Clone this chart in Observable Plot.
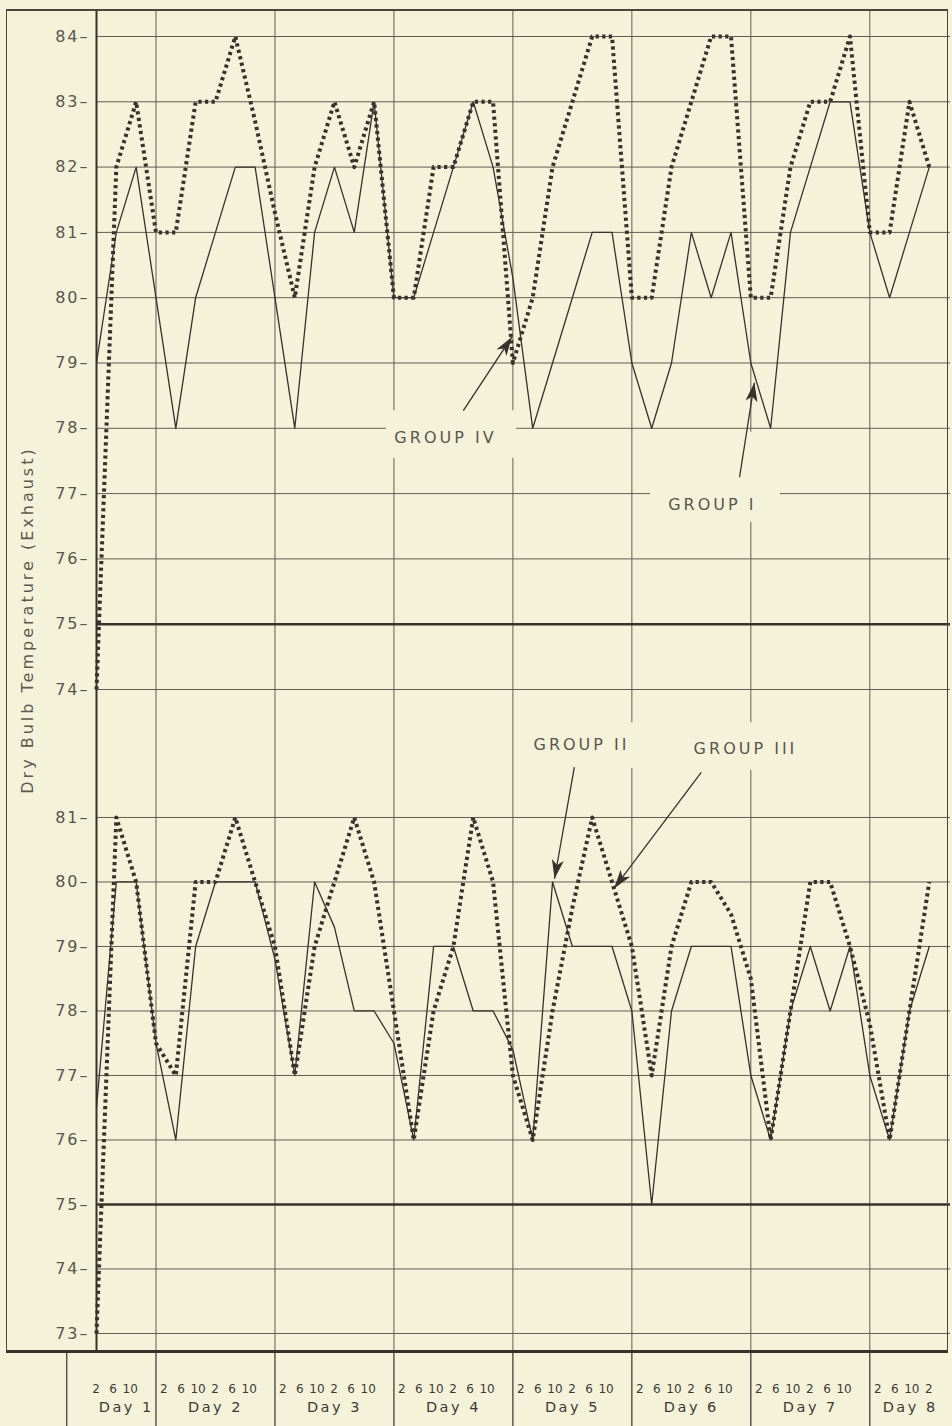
<!DOCTYPE html>
<html>
<head>
<meta charset="utf-8">
<script src="https://cdn.jsdelivr.net/npm/d3@7"></script>
<script src="https://cdn.jsdelivr.net/npm/@observablehq/plot@0.6"></script>
<style>
  html, body { margin: 0; padding: 0; background: #f5f2da; }
  #page { position: relative; width: 952px; height: 1426px; overflow: hidden; background: #f5f2da; font-family: "DejaVu Sans", sans-serif; }
  #frame { position: absolute; left: 6px; top: 9px; width: 942px; height: 1344px; box-sizing: border-box;
           border: 1.5px solid #4a463e; border-top-width: 2px; border-bottom: 3px solid #36322c; pointer-events: none; }
  #ytitle { position: absolute; left: 27px; top: 620px; transform: translate(-50%, -50%) rotate(-90deg);
            white-space: nowrap; font-size: 16px; letter-spacing: 3px; color: #5e5a51; }
  #top, #bottom { position: absolute; left: 0; }
  #top { top: 10px; }
  #bottom { top: 705px; }
</style>
</head>
<body>
<div id="page">
  <div id="top"></div>
  <div id="bottom"></div>
  <div id="frame"></div>
  <div id="ytitle">Dry Bulb Temperature (Exhaust)</div>
</div>
<script>
// ---------------- DATA ----------------
const days = ["Day 1", "Day 2", "Day 3", "Day 4", "Day 5", "Day 6", "Day 7", "Day 8"];
const hourLabels = ["2", "6", "10", "2", "6", "10"];   // readings every 4 h: 2am 6am 10am 2pm 6pm 10pm
const firstReading = 3;                                   // Day 1 starts with the 2 pm reading (slot 3)

// Upper panel
const groupI   = [79, 81, 82, 80, 78, 80, 81, 82, 82, 80,
                  78, 81, 82, 81, 83, 80, 80, 81, 82, 83,
                  82, 80.3, 78, 79, 80, 81, 81, 79, 78, 79,
                  81, 80, 81, 79, 78, 81, 82, 83, 83, 81,
                  80, 81, 82];
const groupIV  = [74, 82, 83, 81, 81, 83, 83, 84, 82.7, 81.3,
                  80, 82, 83, 82, 83, 80, 80, 82, 82, 83,
                  83, 79, 80, 82, 83, 84, 84, 80, 80, 82,
                  83, 84, 84, 80, 80, 82, 83, 83, 84, 81,
                  81, 83, 82];
// Lower panel
const groupII  = [76.5, 80, 80, 77.5, 76, 79, 80, 80, 80, 78.8,
                  77, 80, 79.3, 78, 78, 77.5, 76, 79, 79, 78,
                  78, 77.4, 76, 80, 79, 79, 79, 78, 75, 78,
                  79, 79, 79, 77, 76, 78, 79, 78, 79, 77,
                  76, 78, 79];
const groupIII = [73, 81, 80, 77.5, 77, 80, 80, 81, 80, 79,
                  77, 79, 80, 81, 80, 78, 76, 78, 79, 81,
                  80, 77, 76, 78, 79.6, 81, 80, 79, 77, 79,
                  80, 80, 79.5, 78.5, 76, 78, 80, 80, 79, 77.8,
                  76, 78, 80];

const topTicks = [74, 75, 76, 77, 78, 79, 80, 81, 82, 83, 84];
const bottomTicks = [73, 74, 75, 76, 77, 78, 79, 80, 81];
const heavyLine = [75];

// annotations (x in reading slots, y in °F)
const topLabels = [{name: "GROUP IV", t: 20.6, v: 77.86}, {name: "GROUP I", t: 34.06, v: 76.82}];
const bottomLabels = [{name: "GROUP II", t: 27.46, v: 82.13}, {name: "GROUP III", t: 35.73, v: 82.07}];
const topArrows = [{t1: 21.5, v1: 78.27, t2: 23.95, v2: 79.4}, {t1: 35.43, v1: 77.25, t2: 36.18, v2: 78.7}];
const bottomArrows = [{t1: 27.1, v1: 81.78, t2: 26.1, v2: 80.05}, {t1: 33.5, v1: 81.7, t2: 29.1, v2: 79.9}];
const topKnock = [{t1: 17.62, t2: 24.18, v1: 77.54, v2: 78.27}, {t1: 30.94, t2: 37.49, v1: 76.56, v2: 77.94}];
const bottomKnock = [{t1: 24.38, t2: 30.53, v1: 81.76, v2: 82.47}, {t1: 32.45, t2: 39.1, v1: 81.73, v2: 82.47}];

// ---------------- LAYOUT ----------------
const paper = "#f5f2da", ink = "#36322c", grid = "#615d54", textGray = "#5a564d";
const W = 952, marginLeft = 96, marginRight = 2;
const xDomain = [3, 46.07];
const topDomain = [73.755, 84.398], topH = 695;
const botDomain = [72.705, 82.736], botH = 721, botMB = 74;
const labelInset = 0.4, labelSpacing = 0.86;

const slots = groupI.map((_, i) => firstReading + i);
const rows = (arr) => arr.map((v, i) => ({t: slots[i], v}));
const dayStarts = days.slice(1).map((_, i) => 6 * (i + 1));
const labelDividers = [1.5, ...dayStarts];
const hourTickPos = slots.map(t => 6 * Math.floor(t / 6) + labelInset + (t % 6) * labelSpacing);
const hourTickText = new Map(slots.map((t, i) => [hourTickPos[i], hourLabels[t % 6]]));
const dayMid = days.map((name, i) => {
  const a = Math.max(6 * i, xDomain[0]), b = Math.min(6 * (i + 1), xDomain[1]);
  return {name, t: (a + b) / 2};
});

const xs = d3.scaleLinear(xDomain, [marginLeft, W - marginRight]);
const yTop = d3.scaleLinear(topDomain, [topH, 0]);
const yBot = d3.scaleLinear(botDomain, [botH - botMB, 0]);
const withAngle = (arr, y) => arr.map(a => ({...a,
  angle: Math.atan2(xs(a.t2) - xs(a.t1), -(y(a.v2) - y(a.v1))) * 180 / Math.PI}));

const arrowHead = {draw(ctx) { ctx.moveTo(0, 0); ctx.lineTo(6, 19); ctx.lineTo(0, 14); ctx.lineTo(-6, 19); ctx.closePath(); }};

const solid = {x: "t", y: "v", stroke: ink, strokeWidth: 1.3};
const dotted = {x: "t", y: "v", stroke: ink, strokeWidth: 4, strokeDasharray: "3.2,3.4", strokeLinecap: "butt"};

function annotationMarks(labels, arrows, knock, y) {
  return {
    knock: Plot.rect(knock, {x1: "t1", x2: "t2", y1: "v1", y2: "v2", fill: paper}),
    texts: Plot.text(labels, {x: "t", y: "v", text: "name", fontSize: 16, fill: textGray}),
    shafts: Plot.link(arrows, {x1: "t1", y1: "v1", x2: "t2", y2: "v2", stroke: ink, strokeWidth: 1.3}),
    heads: Plot.dot(withAngle(arrows, y), {x: "t2", y: "v2", symbol: arrowHead, r: 5, rotate: "angle", fill: ink, stroke: "none"})
  };
}

function spaceText(svg) {
  svg.querySelectorAll("text").forEach(el => {
    const s = el.textContent;
    let ls = null;
    if (/^GROUP/.test(s)) ls = "3px";
    else if (/^Day/.test(s)) ls = "2.5px";
    else if (/–$/.test(s)) ls = "2px";
    if (ls) { el.setAttribute("letter-spacing", ls); el.style.letterSpacing = ls; }
  });
}

const ta = annotationMarks(topLabels, topArrows, topKnock, yTop);
const topPlot = Plot.plot({
  width: W, height: topH, marginLeft, marginRight, marginTop: 0, marginBottom: 0,
  style: {background: "transparent", overflow: "visible", fontFamily: "DejaVu Sans"},
  x: {domain: xDomain, axis: null},
  y: {domain: topDomain},
  marks: [
    Plot.ruleY(topTicks, {stroke: grid, strokeWidth: 1}),
    Plot.ruleX(dayStarts, {stroke: grid, strokeWidth: 1}),
    Plot.ruleY(heavyLine, {stroke: ink, strokeWidth: 2.4}),
    ta.knock,
    Plot.ruleX([xDomain[0]], {stroke: ink, strokeWidth: 2}),
    Plot.axisY(topTicks, {tickSize: 0, tickPadding: 7, tickFormat: d => `${d}–`, fontSize: 16, color: textGray, label: null}),
    Plot.line(rows(groupIV), dotted),
    Plot.line(rows(groupI), solid),
    ta.texts, ta.shafts, ta.heads
  ]
});
spaceText(topPlot);
document.getElementById("top").append(topPlot);

const ba = annotationMarks(bottomLabels, bottomArrows, bottomKnock, yBot);
const bottomPlot = Plot.plot({
  width: W, height: botH, marginLeft, marginRight, marginTop: 0, marginBottom: botMB,
  style: {background: "transparent", overflow: "visible", fontFamily: "DejaVu Sans"},
  x: {domain: xDomain, label: null},
  y: {domain: botDomain},
  marks: [
    Plot.ruleY(bottomTicks, {stroke: grid, strokeWidth: 1}),
    Plot.ruleX(dayStarts, {stroke: grid, strokeWidth: 1}),
    Plot.ruleX(labelDividers, {y1: botDomain[0], y2: botDomain[0] - botMB / 64.5, stroke: ink, strokeWidth: 1.2}),
    Plot.ruleY(heavyLine, {stroke: ink, strokeWidth: 2.4}),
    ba.knock,
    Plot.ruleX([xDomain[0]], {stroke: ink, strokeWidth: 2}),
    Plot.axisY(bottomTicks, {tickSize: 0, tickPadding: 7, tickFormat: d => `${d}–`, fontSize: 16, color: textGray, label: null}),
    Plot.axisX(hourTickPos, {anchor: "bottom", tickSize: 0, tickPadding: 32, tickFormat: d => hourTickText.get(d), fontSize: 12, color: "#3f3b34", label: null}),
    Plot.text(dayMid, {x: "t", text: "name", frameAnchor: "bottom", dy: 59, fontSize: 14.5, fill: "#3f3b34"}),
    Plot.line(rows(groupIII), dotted),
    Plot.line(rows(groupII), solid),
    ba.texts, ba.shafts, ba.heads
  ]
});
spaceText(bottomPlot);
document.getElementById("bottom").append(bottomPlot);
</script>
</body>
</html>
